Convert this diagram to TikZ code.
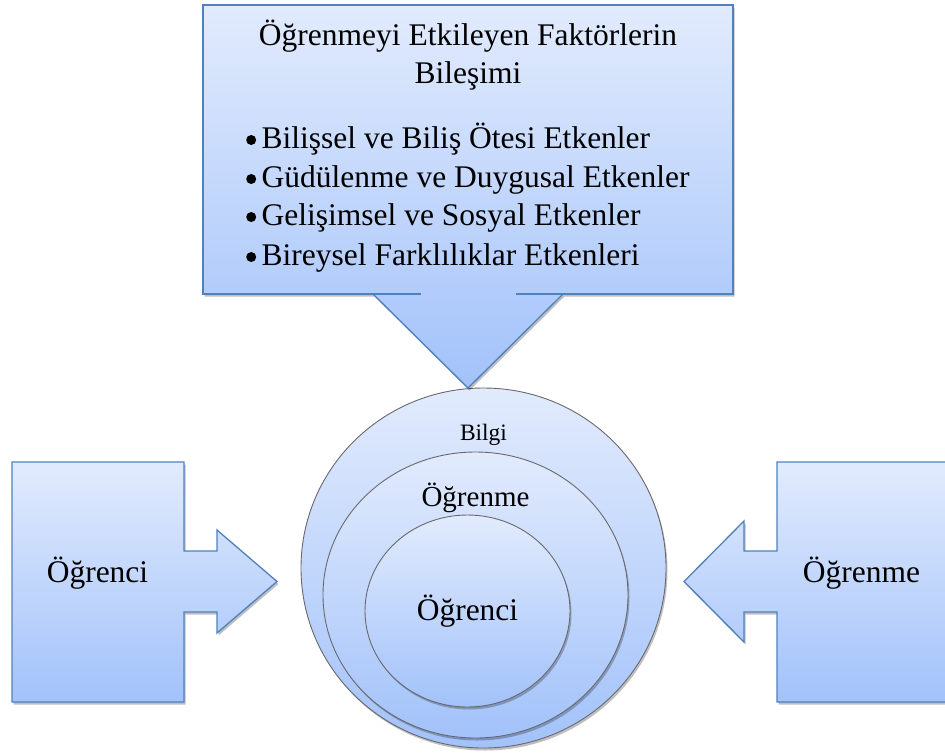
\documentclass[tikz,border=0pt]{standalone}
\usepackage{fontspec}
\setmainfont{Liberation Serif}
\usetikzlibrary{shadows}
\definecolor{topc}{RGB}{226,235,253}
\definecolor{botc}{RGB}{162,194,250}
\definecolor{bedge}{RGB}{79,129,189}
\definecolor{cedge}{RGB}{105,105,110}
\newcommand{\mybul}{\makebox[15.5pt][l]{\raisebox{3pt}{\tikz\fill[black] (0,0) circle[radius=5pt];}}}
\begin{document}
\begin{tikzpicture}[x=1pt,y=-1pt,
  grad/.style={top color=topc,bottom color=botc},
  shad/.style={drop shadow={shadow xshift=1.5pt,shadow yshift=-2.5pt,opacity=0.25,fill=black}},
  bluedge/.style={draw=bedge,line width=1.3pt,line join=miter},
  circ/.style={grad,draw=cedge,line width=0.9pt,shad},
  txt/.style={inner sep=0pt,font=\fontsize{31.5}{38}\selectfont},
  mtxt/.style={inner sep=0pt,font=\fontsize{29}{35}\selectfont},
  stxt/.style={inner sep=0pt,font=\fontsize{23.5}{28}\selectfont}]
\useasboundingbox (0,0) rectangle (945,753);
% nested circles
\path[circ] (483.5,568) ellipse [x radius=182.5pt, y radius=180pt];
\path[circ] (475.5,595) ellipse [x radius=152.5pt, y radius=143pt];
\path[circ] (467.5,611) ellipse [x radius=102.5pt, y radius=96pt];
\node[stxt,anchor=base] (bilgi) at (483.5,440) {Bilgi};
\node[mtxt,anchor=base] (ogrenmeC) at (475.5,506) {Öğrenme};
\node[txt,anchor=base] (ogrenciC) at (467.5,620) {Öğrenci};
% top callout
\fill[grad,shad] (203,5) -- (733,5) -- (733,294) -- (563,294) -- (468,388) -- (373,294) -- (203,294) -- cycle;
\draw[bluedge] (421,294) -- (203,294) -- (203,5) -- (733,5) -- (733,294) -- (516,294);
\draw[bluedge] (563,294) -- (468,388) -- (373,294);
\node[txt,anchor=base] (t1) at (468,45) {Öğrenmeyi Etkileyen Faktörlerin};
\node[txt,anchor=base] (t2) at (468,83) {Bileşimi};
\node[txt,anchor=base west] (b1) at (246,148) {\mybul Bilişsel ve Biliş Ötesi Etkenler};
\node[txt,anchor=base west] (b2) at (246,187) {\mybul Güdülenme ve Duygusal Etkenler};
\node[txt,anchor=base west] (b3) at (246,225) {\mybul Gelişimsel ve Sosyal Etkenler};
\node[txt,anchor=base west] (b4) at (246,265) {\mybul Bireysel Farklılıklar Etkenleri};
% left callout
\path[grad,shad,bluedge] (12,462) -- (184,462) -- (184,551) -- (217,551) -- (217,530) -- (277,581.5) -- (217,633) -- (217,612) -- (184,612) -- (184,702) -- (12,702) -- cycle;
\node[txt,anchor=base] (left) at (97.5,582) {Öğrenci};
% right callout
\path[grad,shad,bluedge] (960,462) -- (777,462) -- (777,551) -- (744,551) -- (744,521) -- (684,581.5) -- (744,642) -- (744,612) -- (777,612) -- (777,702) -- (960,702) -- cycle;
\node[txt,anchor=base] (right) at (861.5,582) {Öğrenme};
\end{tikzpicture}
\end{document}
